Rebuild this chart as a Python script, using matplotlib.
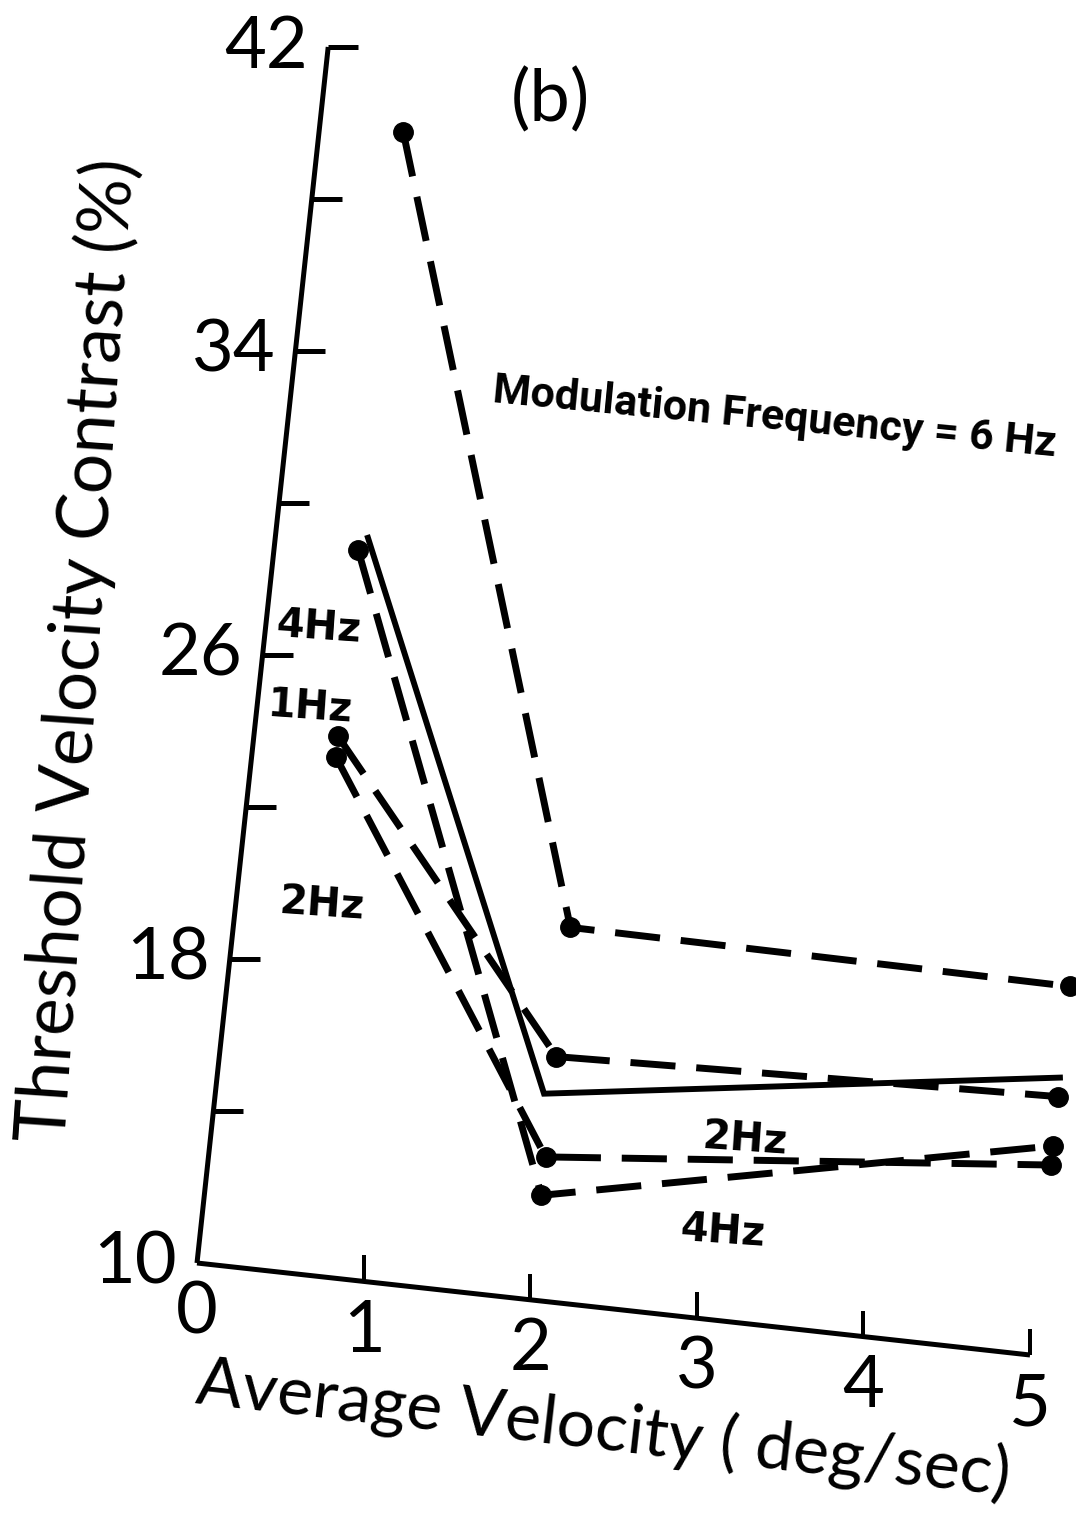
import matplotlib
matplotlib.use("Agg")
import matplotlib.pyplot as plt
from matplotlib.transforms import Affine2D

# Average velocity (deg/sec) at which each condition was measured
velocity = [0.5, 2.0, 5.0]

# Threshold velocity contrast (%) per modulation frequency
contrast_6hz = [40.0, 19.8, 19.7]
contrast_solid = [29.35, 15.4, 17.3]
contrast_4hz = [29.0, 12.75, 15.5]
contrast_2hz = [23.56, 13.76, 15.0]
contrast_1hz = [24.1, 16.4, 16.8]
solid_velocity = [0.55, 1.95, 5.0]

x_ticks = [0, 1, 2, 3, 4, 5]
x_ticklabels = ["0", "1", "2", "3", "4", "5"]
y_ticks = [10, 14, 18, 22, 26, 30, 34, 38, 42]
y_ticklabels = {10: "10", 18: "18", 26: "26", 34: "34", 42: "42"}

W, H = 1076, 1514
fig = plt.figure(figsize=(W / 100, H / 100), dpi=100)
ax = fig.add_axes([0, 0, 1, 1])
ax.set_xlim(0, W)
ax.set_ylim(H, 0)
ax.axis("off")

# Oblique chart plane: velocity runs along a gently descending baseline,
# contrast along a slightly leaning vertical axis.
plane = Affine2D.from_values(166.6, 18.4, 4.1, -38.0, 197 - 41.0, 1263 + 380.0)
T = plane + ax.transData


def to_px(v, c):
    return plane.transform((v, c))


LW_AX = 3.6
axis_kw = dict(color="black", lw=LW_AX, solid_capstyle="butt", transform=T)
ax.plot([0, 0], [10, 42], **axis_kw)
ax.plot([0, 5], [10, 10], **axis_kw)

# Y ticks point inward (to the right)
for yt in y_ticks[1:]:
    x0, y0 = to_px(0, yt)
    ax.plot([x0, x0 + 30], [y0, y0], color="black", lw=LW_AX, solid_capstyle="butt")
# X ticks point upward
for xt in x_ticks[1:]:
    x0, y0 = to_px(xt, 10)
    ax.plot([x0, x0], [y0, y0 - 26], color="black", lw=LW_AX * 0.8, solid_capstyle="butt")

num_font = dict(family="Lato", fontweight="normal", fontsize=52, color="black")
for yt, lab in y_ticklabels.items():
    x0, y0 = to_px(0, yt)
    ax.text(x0 - 20, y0, lab, ha="right", va="center", **num_font)
for xt, lab in zip(x_ticks, x_ticklabels):
    x0, y0 = to_px(xt, 10)
    ax.text(x0, y0 + 50, lab, ha="center", va="center", **num_font)

ax.text(78, 650, "Threshold Velocity Contrast (%)", rotation=86, ha="center", va="center",
        family="Lato", fontweight="normal", fontsize=51)
ax.text(603, 1430, "Average Velocity ( deg/sec)", rotation=-6.5, ha="center", va="center",
        family="Lato", fontweight="normal", fontsize=49)
ax.text(550, 100, "(b)", ha="center", va="center", family="Lato", fontweight="normal", fontsize=52)

ax.text(775, 418, "Modulation Frequency = 6 Hz", rotation=-5.5, ha="center", va="center",
        family="Roboto", fontweight="bold", fontsize=31, color="black")
lab_font = dict(family="DejaVu Sans", fontweight="bold", color="black")
small = 29
ax.text(318, 628, "4Hz", rotation=-4, ha="center", va="center", fontsize=small, **lab_font)
ax.text(310, 708, "1Hz", rotation=-4, ha="center", va="center", fontsize=small, **lab_font)
ax.text(322, 905, "2Hz", rotation=-4, ha="center", va="center", fontsize=small, **lab_font)
ax.text(745, 1140, "2Hz", rotation=-4, ha="center", va="center", fontsize=small, **lab_font)
ax.text(722, 1232, "4Hz", rotation=-4, ha="center", va="center", fontsize=small, **lab_font)

LW = 5
dash = (0, (6.5, 3.0))
mk = dict(marker="o", markersize=14, markerfacecolor="black", markeredgecolor="black")

ax.plot(velocity, contrast_6hz, color="black", lw=LW, linestyle=dash, transform=T, **mk)
ax.plot(solid_velocity, contrast_solid, color="black", lw=LW * 0.85, linestyle="-",
        transform=T, solid_joinstyle="miter")
ax.plot(velocity, contrast_4hz, color="black", lw=LW, linestyle=dash, transform=T, **mk)
ax.plot(velocity, contrast_2hz, color="black", lw=LW, linestyle=dash, transform=T, **mk)
ax.plot(velocity, contrast_1hz, color="black", lw=LW, linestyle=dash, transform=T, **mk)

fig.savefig("out.png", dpi=100, facecolor="white")
